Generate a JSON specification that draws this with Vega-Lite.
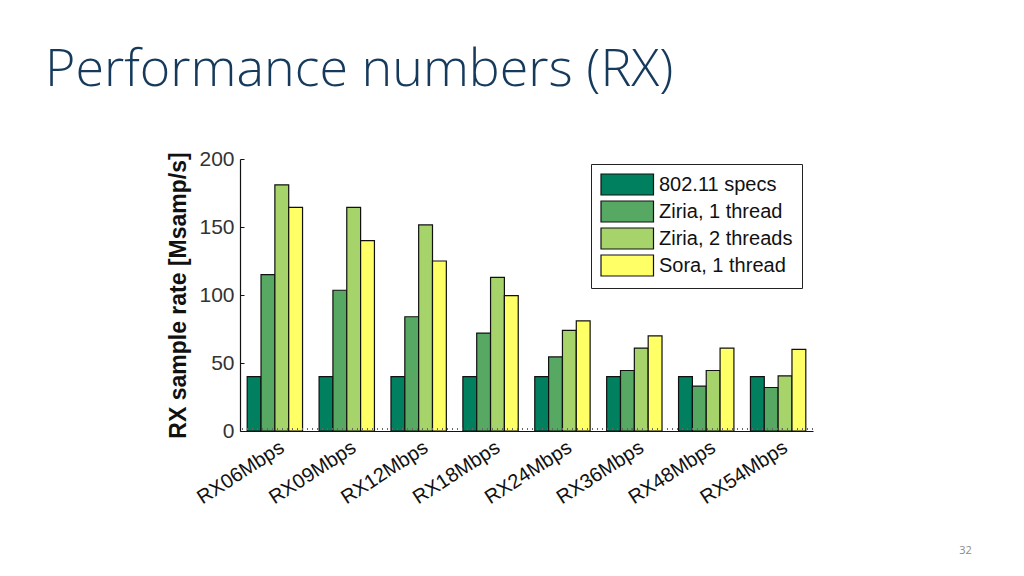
{
  "$schema": "https://vega.github.io/schema/vega-lite/v6.json",
  "width": 573,
  "height": 272,
  "autosize": {"type": "none"},
  "padding": {"left": 240, "top": 159, "right": 211, "bottom": 145},
  "background": "white",
  "title": {
    "text": "Performance numbers (RX)",
    "anchor": "start",
    "frame": "group",
    "orient": "top",
    "dx": -195,
    "offset": 10,
    "baseline": "alphabetic",
    "font": "Open Sans",
    "fontWeight": 300,
    "fontSize": 52,
    "color": "#163a5c"
  },
  "data": {
    "values": [
      {"rate": "RX06Mbps", "series": "802.11 specs", "value": 40},
      {"rate": "RX06Mbps", "series": "Ziria, 1 thread", "value": 115},
      {"rate": "RX06Mbps", "series": "Ziria, 2 threads", "value": 181},
      {"rate": "RX06Mbps", "series": "Sora, 1 thread", "value": 164.5},
      {"rate": "RX09Mbps", "series": "802.11 specs", "value": 40},
      {"rate": "RX09Mbps", "series": "Ziria, 1 thread", "value": 103.5},
      {"rate": "RX09Mbps", "series": "Ziria, 2 threads", "value": 164.5},
      {"rate": "RX09Mbps", "series": "Sora, 1 thread", "value": 140},
      {"rate": "RX12Mbps", "series": "802.11 specs", "value": 40},
      {"rate": "RX12Mbps", "series": "Ziria, 1 thread", "value": 84},
      {"rate": "RX12Mbps", "series": "Ziria, 2 threads", "value": 151.5},
      {"rate": "RX12Mbps", "series": "Sora, 1 thread", "value": 125},
      {"rate": "RX18Mbps", "series": "802.11 specs", "value": 40},
      {"rate": "RX18Mbps", "series": "Ziria, 1 thread", "value": 72},
      {"rate": "RX18Mbps", "series": "Ziria, 2 threads", "value": 113},
      {"rate": "RX18Mbps", "series": "Sora, 1 thread", "value": 99.5},
      {"rate": "RX24Mbps", "series": "802.11 specs", "value": 40},
      {"rate": "RX24Mbps", "series": "Ziria, 1 thread", "value": 54.5},
      {"rate": "RX24Mbps", "series": "Ziria, 2 threads", "value": 74},
      {"rate": "RX24Mbps", "series": "Sora, 1 thread", "value": 81},
      {"rate": "RX36Mbps", "series": "802.11 specs", "value": 40},
      {"rate": "RX36Mbps", "series": "Ziria, 1 thread", "value": 44.5},
      {"rate": "RX36Mbps", "series": "Ziria, 2 threads", "value": 61},
      {"rate": "RX36Mbps", "series": "Sora, 1 thread", "value": 70},
      {"rate": "RX48Mbps", "series": "802.11 specs", "value": 40},
      {"rate": "RX48Mbps", "series": "Ziria, 1 thread", "value": 33},
      {"rate": "RX48Mbps", "series": "Ziria, 2 threads", "value": 44.5},
      {"rate": "RX48Mbps", "series": "Sora, 1 thread", "value": 61},
      {"rate": "RX54Mbps", "series": "802.11 specs", "value": 40},
      {"rate": "RX54Mbps", "series": "Ziria, 1 thread", "value": 32},
      {"rate": "RX54Mbps", "series": "Ziria, 2 threads", "value": 40.5},
      {"rate": "RX54Mbps", "series": "Sora, 1 thread", "value": 60}
    ]
  },
  "layer": [
    {
      "mark": {"type": "bar", "stroke": "#111", "strokeWidth": 1.2, "opacity": 1},
      "encoding": {
        "x": {
          "field": "rate",
          "type": "nominal",
          "sort": null,
          "scale": {"paddingInner": 0.23, "paddingOuter": 0.1},
          "axis": {
            "title": "32",
            "titleX": 725,
            "titleY": 119,
            "titleAngle": 0,
            "titleAlign": "center",
            "titleBaseline": "middle",
            "titleFont": "Open Sans",
            "titleFontSize": 11,
            "titleFontWeight": "normal",
            "titleColor": "#8a8a8a",
            "labelAngle": -33,
            "labelAlign": "right",
            "labelBaseline": "top",
            "labelFont": "Liberation Sans",
            "labelFontSize": 20,
            "labelColor": "#111",
            "labelPadding": 6,
            "labelOffset": 2,
            "ticks": false,
            "domainColor": "#111",
            "domainWidth": 1.2,
            "grid": false
          }
        },
        "xOffset": {
          "field": "series",
          "type": "nominal",
          "sort": ["802.11 specs", "Ziria, 1 thread", "Ziria, 2 threads", "Sora, 1 thread"],
          "scale": {"paddingInner": 0, "paddingOuter": 0}
        },
        "y": {
          "field": "value",
          "type": "quantitative",
          "scale": {"domain": [0, 200], "nice": false},
          "axis": {
            "title": "RX sample rate [Msamp/s]",
            "titleFont": "Liberation Sans",
            "titleFontSize": 23,
            "titleFontWeight": "bold",
            "titleColor": "#111",
            "titleX": -62,
            "titleY": 136,
            "titleAngle": -90,
            "titleAlign": "center",
            "titleBaseline": "middle",
            "values": [0, 50, 100, 150, 200],
            "labelFont": "Liberation Sans",
            "labelFontSize": 21,
            "labelColor": "#333",
            "labelPadding": 10,
            "tickSize": -4,
            "tickColor": "#111",
            "domainColor": "#111",
            "domainWidth": 1.2,
            "grid": false
          }
        },
        "color": {
          "field": "series",
          "type": "nominal",
          "sort": ["802.11 specs", "Ziria, 1 thread", "Ziria, 2 threads", "Sora, 1 thread"],
          "scale": {
            "domain": ["802.11 specs", "Ziria, 1 thread", "Ziria, 2 threads", "Sora, 1 thread"],
            "range": ["#00805f", "#57a862", "#a6d46a", "#ffff66"]
          },
          "legend": {
            "title": null,
            "orient": "none",
            "legendX": 351,
            "legendY": 5,
            "direction": "vertical",
            "fillColor": "white",
            "strokeColor": "#222",
            "padding": 9,
            "symbolType": "M-1,-1H4V1H-1Z",
            "symbolSize": 441,
            "symbolStrokeColor": "#111",
            "symbolStrokeWidth": 1.2,
            "symbolOpacity": 1,
            "rowPadding": 0,
            "labelOffset": 36,
            "labelFont": "Liberation Sans",
            "labelFontSize": 20,
            "labelColor": "#111",
            "labelLimit": 300
          }
        }
      }
    },
    {
      "mark": {"type": "rule", "strokeDash": [1, 4], "color": "#666", "strokeWidth": 1, "yOffset": -2},
      "encoding": {"y": {"datum": 0}}
    }
  ],
  "config": {"view": {"stroke": null}}
}
